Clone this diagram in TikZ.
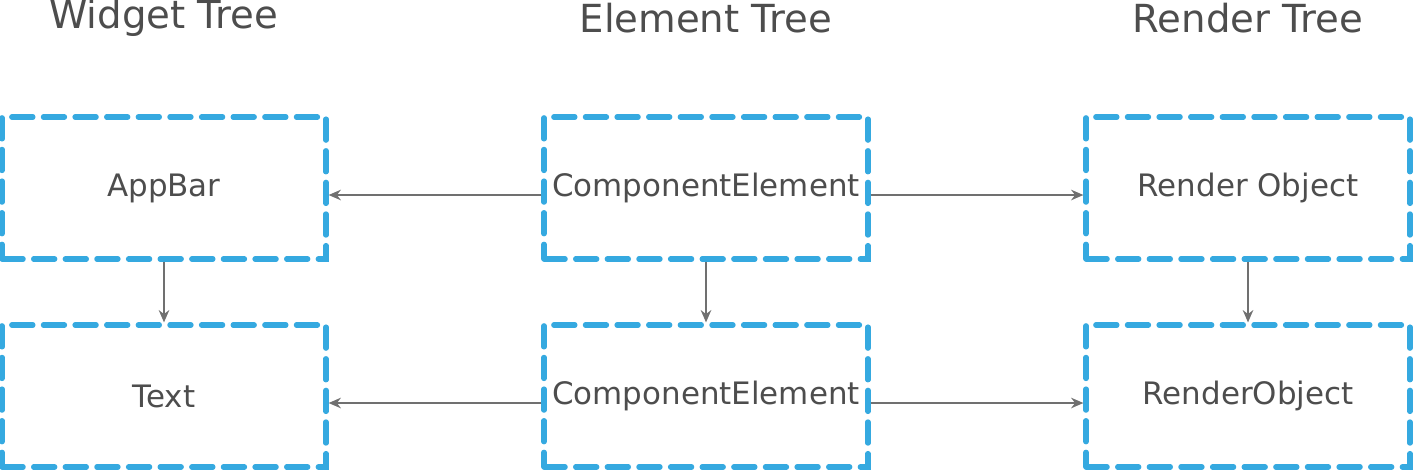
\documentclass[tikz,border=0pt]{standalone}
\usepackage{fontspec}
\setmainfont{DejaVu Sans}
\usetikzlibrary{arrows.meta}
\definecolor{boxblue}{HTML}{35A9E0}
\definecolor{txtgray}{HTML}{4D4D4D}
\definecolor{arrgray}{HTML}{707070}
\tikzset{
  treebox/.style={draw=boxblue, line width=3pt, dash pattern=on 12pt off 6pt,
    line cap=round, minimum width=6.48cm, minimum height=2.84cm, text=txtgray,
    font=\fontsize{17.6}{21}\selectfont},
  title/.style={text=txtgray, font=\fontsize{22}{26}\selectfont},
  link/.style={->, >={Stealth[length=7pt,width=6pt]}, draw=arrgray, line width=1pt}
}
\begin{document}
\begin{tikzpicture}[x=0.02cm,y=-0.02cm]
\useasboundingbox (0,0) rectangle (1413,471);

\node[title] (wt) at (164,18) {Widget Tree};
\node[title] (et) at (706,18) {Element Tree};
\node[title] (rt) at (1248,18) {Render Tree};

\node[treebox] (appbar) at (164,188) {AppBar};
\node[treebox] (text)   at (164,396) {Text};
\node[treebox] (ce1)    at (706,188) {ComponentElement};
\node[treebox] (ce2)    at (706,396) {ComponentElement};
\node[treebox] (ro1)    at (1248,188) {Render Object};
\node[treebox] (ro2)    at (1248,396) {RenderObject};

% horizontal links
\draw[link] ([yshift=-0.14cm]ce1.west) -- ([yshift=-0.14cm]appbar.east);
\draw[link] ([yshift=-0.14cm]ce1.east) -- ([yshift=-0.14cm]ro1.west);
\draw[link] ([yshift=-0.14cm]ce2.west) -- ([yshift=-0.14cm]text.east);
\draw[link] ([yshift=-0.14cm]ce2.east) -- ([yshift=-0.14cm]ro2.west);

% vertical links
\draw[link] (appbar.south) -- (text.north);
\draw[link] (ce1.south) -- (ce2.north);
\draw[link] (ro1.south) -- (ro2.north);
\end{tikzpicture}
\end{document}
